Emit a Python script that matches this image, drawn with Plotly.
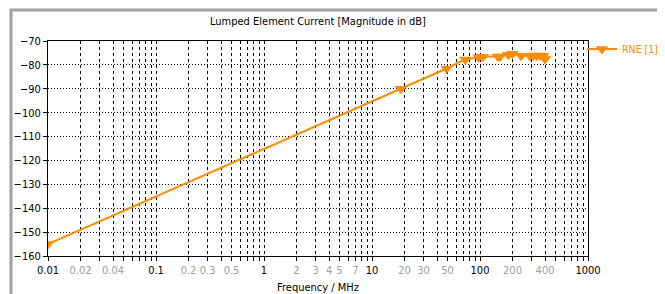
import plotly.graph_objects as go

freq_mhz = [0.01, 18.5, 49, 73, 97, 106, 146, 153, 183, 200, 240, 290, 310, 335, 360, 385, 400]
current_db = [-155.0, -90.0, -81.5, -77.7, -76.8, -76.6, -76.5, -76.5, -75.8, -75.3,
              -76.2, -76.3, -76.1, -76.2, -76.1, -76.3, -77.5]
series_name = "RNE [1]"

major_labels = [0.01, 0.1, 1, 10, 100, 1000]
minor_labels = [0.02, 0.04, 0.2, 0.3, 0.5, 2, 3, 4, 5, 7, 20, 30, 50, 200, 400]
y_ticks = [-70, -80, -90, -100, -110, -120, -130, -140, -150, -160]

ORANGE = "#FF8C00"
FONT = "DejaVu Sans Condensed, sans-serif"

def fmt(v):
    return "%g" % v

tickvals = []
ticktext = []
for d in [0.01, 0.1, 1, 10, 100]:
    for m in range(1, 10):
        v = round(d * m, 6)
        tickvals.append(v)
        if any(abs(v - t) < 1e-9 for t in major_labels):
            ticktext.append(fmt(v))
        elif any(abs(v - t) < 1e-9 for t in minor_labels):
            ticktext.append('<span style="color:#a0a0a0">' + fmt(v) + '</span>')
        else:
            ticktext.append("")
tickvals.append(1000)
ticktext.append("1000")

# page body has an 8px margin; figure sized so the visible window is 665x294
W, H = 657, 286
L, R, T, B = 40, 77, 33, 38
PW, PH = W - L - R, H - T - B

fig = go.Figure()
fig.add_trace(go.Scatter(
    x=freq_mhz, y=current_db, mode="lines+markers", name=series_name,
    line=dict(color=ORANGE, width=2),
    marker=dict(symbol="triangle-down", size=11, color=ORANGE),
))

fig.update_layout(
    width=W, height=H,
    margin=dict(l=L, r=R, t=T, b=B, autoexpand=False),
    paper_bgcolor="white", plot_bgcolor="white",
    font=dict(family=FONT, size=11, color="black"),
    title=dict(text="Lumped Element Current [Magnitude in dB]", x=(L + PW / 2) / W, xanchor="center",
               y=1 - 13 / H, yanchor="middle", font=dict(size=11, color="black", family=FONT)),
    showlegend=True,
    legend=dict(x=1.0 - 6 / PW, y=1.03, xanchor="left", yanchor="top",
                font=dict(color=ORANGE, size=10.5),
                bgcolor="rgba(0,0,0,0)", itemwidth=30),
    xaxis=dict(type="log", range=[-2, 3], tickvals=tickvals, ticktext=ticktext,
               showgrid=True, gridcolor="black", gridwidth=1, griddash="3px,3px",
               showline=True, linecolor="black", linewidth=1, mirror=True,
               ticks="outside", ticklen=4, tickcolor="black", zeroline=False,
               automargin=False, tickfont=dict(size=11),
               title=dict(text="Frequency / MHz", font=dict(size=11), standoff=7)),
    yaxis=dict(range=[-160, -70], tickvals=y_ticks,
               showgrid=True, gridcolor="black", gridwidth=1, griddash="1px,2px",
               showline=True, linecolor="black", linewidth=1, mirror=True,
               ticks="outside", ticklen=4, tickcolor="black", zeroline=False,
               automargin=False, tickfont=dict(size=11)),
)

# outer window frame (gray)
fig.add_shape(type="rect", xref="paper", yref="paper",
              x0=(3 - L) / PW, x1=(W + 30 - L) / PW,
              y0=-(B + 30) / PH, y1=1 + (T - 2) / PH,
              line=dict(color="#a0a0a0", width=3), layer="below")

fig.write_html("out.html")
